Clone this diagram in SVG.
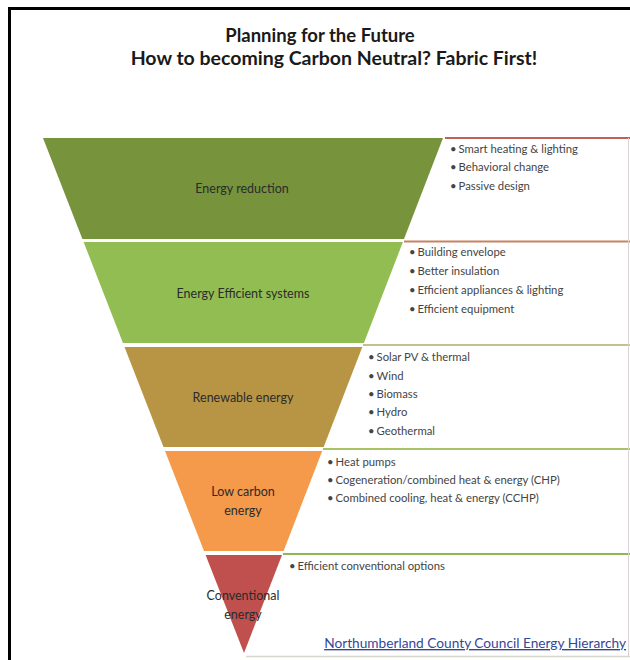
<svg xmlns="http://www.w3.org/2000/svg" width="630" height="660" viewBox="0 0 630 660">
<style>
.title{font-family:Lato,"Liberation Sans",sans-serif;font-weight:bold;font-size:18.5px;fill:#1a1a1a;text-anchor:middle}
.lbl{font-family:Lato,"Liberation Sans",sans-serif;font-size:12.5px;fill:#2b2b2b;text-anchor:middle}
.bul{font-family:Lato,"Liberation Sans",sans-serif;font-size:11.3px;fill:#444}
.link{font-family:Lato,"Liberation Sans",sans-serif;font-size:13.7px;fill:#34489a;text-decoration:underline}
.sep{stroke-width:2;fill:none}
</style>
<rect x="0" y="0" width="630" height="660" fill="#fff"/>
<rect x="9.5" y="8.5" width="640" height="670" fill="none" stroke="#000" stroke-width="3"/>
<text class="title" x="320" y="42">Planning for the Future</text>
<text class="title" x="334" y="65" style="font-size:19.5px">How to becoming Carbon Neutral? Fabric First!</text>
<g id="separators">
<line class="sep" x1="445" y1="138" x2="630" y2="138" stroke="#c0605a"/>
<line class="sep" x1="404" y1="241.5" x2="630" y2="241.5" stroke="#c98162"/>
<line class="sep" x1="363" y1="345" x2="630" y2="345" stroke="#c8bf8e"/>
<line class="sep" x1="323" y1="449" x2="630" y2="449" stroke="#a9c264"/>
<line class="sep" x1="283" y1="554" x2="630" y2="554" stroke="#93b655"/>
<line x1="246" y1="656.5" x2="630" y2="656.5" stroke="#d2d8cc" stroke-width="1.5"/>
<line x1="628.5" y1="138" x2="628.5" y2="657" stroke="#dcd4d4" stroke-width="1"/>
</g>
<g id="energy-reduction">
<polygon points="43,138 443,138 404,239 82.4,239" fill="#77933c"/>
<text class="lbl" x="242" y="193">Energy reduction</text>
<text class="bul" x="450" y="153">•<tspan dx="2">Smart heating &amp; lighting</tspan></text>
<text class="bul" x="450" y="171">•<tspan dx="2">Behavioral change</tspan></text>
<text class="bul" x="450" y="190">•<tspan dx="2">Passive design</tspan></text>
</g>
<g id="energy-efficient-systems">
<polygon points="83.6,242 402.9,242 363.9,343 123,343" fill="#92bd53"/>
<text class="lbl" x="243" y="298">Energy Efficient systems</text>
<text class="bul" x="409" y="256">•<tspan dx="2">Building envelope</tspan></text>
<text class="bul" x="409" y="275">•<tspan dx="2">Better insulation</tspan></text>
<text class="bul" x="409" y="294">•<tspan dx="2">Efficient appliances &amp; lighting</tspan></text>
<text class="bul" x="409" y="313">•<tspan dx="2">Efficient equipment</tspan></text>
</g>
<g id="renewable-energy">
<polygon points="124.5,347 362.3,347 323.7,447 163.5,447" fill="#b79545"/>
<text class="lbl" x="243" y="402">Renewable energy</text>
<text class="bul" x="368" y="361">•<tspan dx="2">Solar PV &amp; thermal</tspan></text>
<text class="bul" x="368" y="380">•<tspan dx="2">Wind</tspan></text>
<text class="bul" x="368" y="398">•<tspan dx="2">Biomass</tspan></text>
<text class="bul" x="368" y="416">•<tspan dx="2">Hydro</tspan></text>
<text class="bul" x="368" y="435">•<tspan dx="2">Geothermal</tspan></text>
</g>
<g id="low-carbon-energy">
<polygon points="165,451 322.2,451 283.6,551 204,551" fill="#f5994a"/>
<text class="lbl" x="243" y="496">Low carbon</text>
<text class="lbl" x="243" y="515">energy</text>
<text class="bul" x="327" y="466">•<tspan dx="2">Heat pumps</tspan></text>
<text class="bul" x="327" y="484">•<tspan dx="2">Cogeneration/combined heat &amp; energy (CHP)</tspan></text>
<text class="bul" x="327" y="502">•<tspan dx="2">Combined cooling, heat &amp; energy (CCHP)</tspan></text>
</g>
<g id="conventional-energy">
<polygon points="205.6,555 282,555 244,653" fill="#c0504d"/>
<text class="lbl" x="243" y="600">Conventional</text>
<text class="lbl" x="243" y="619">energy</text>
<text class="bul" x="289" y="570">•<tspan dx="2">Efficient conventional options</tspan></text>
</g>
<text class="link" x="626" y="648" text-anchor="end">Northumberland County Council Energy Hierarchy</text>
</svg>
